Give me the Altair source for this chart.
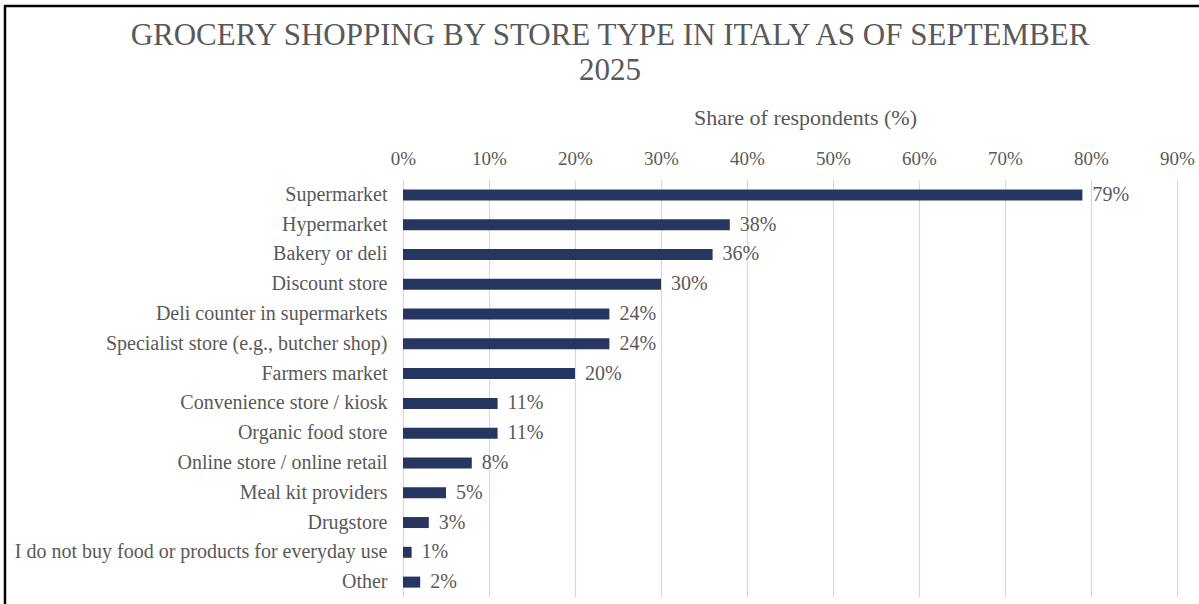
import altair as alt
import pandas as pd

categories = ["Supermarket", "Hypermarket", "Bakery or deli", "Discount store",
              "Deli counter in supermarkets", "Specialist store (e.g., butcher shop)",
              "Farmers market", "Convenience store / kiosk", "Organic food store",
              "Online store / online retail", "Meal kit providers", "Drugstore",
              "I do not buy food or products for everyday use", "Other"]
values = [79, 38, 36, 30, 24, 24, 20, 11, 11, 8, 5, 3, 1, 2]
ticks = [0, 10, 20, 30, 40, 50, 60, 70, 80, 90]

df = pd.DataFrame({"store": categories, "share": [v / 100 for v in values],
                   "label": [f"{v}%" for v in values]})

FONT = "Liberation Serif"
GREY = "#595959"
NAVY = "#263660"

x = alt.X("share:Q", scale=alt.Scale(domain=[0, 0.9], nice=False),
          axis=alt.Axis(orient="top", values=[t / 100 for t in ticks], format=".0%",
                        title="Share of respondents (%)", titleFont=FONT, titleFontSize=22,
                        titleFontWeight="normal", titleColor=GREY, titlePadding=20,
                        titleX=402, titleAlign="center",
                        labelFont=FONT, labelFontSize=19, labelColor=GREY, labelPadding=12,
                        labelFlush=False, labelOverlap=False,
                        ticks=False, domain=False, grid=True, gridColor="#d9d9d9",
                        gridWidth=1.2))
y = alt.Y("store:N", sort=None,
          axis=alt.Axis(title=None, labelFont=FONT, labelFontSize=20, labelColor=GREY,
                        labelPadding=16, ticks=False, domain=False, labelLimit=600))

base = alt.Chart(df)
bars = base.mark_bar(color=NAVY, size=11).encode(x=x, y=y)
text = base.mark_text(align="left", dx=10, font=FONT, fontSize=20, color=GREY).encode(
    x="share:Q", y=alt.Y("store:N", sort=None), text="label:N")

frame_df = pd.DataFrame({"k": [0]})
top_line = alt.Chart(frame_df).mark_rule(color="black", strokeWidth=2.5).encode(
    x=alt.value(-398), x2=alt.value(796), y=alt.value(-174))
left_line = alt.Chart(frame_df).mark_rule(color="black", strokeWidth=2.5).encode(
    x=alt.value(-398), y=alt.value(-175), y2=alt.value(430))

chart = alt.layer(bars, text, top_line, left_line).properties(
    width=774, height=417,
    title=alt.TitleParams(
        text=["GROCERY SHOPPING BY STORE TYPE IN ITALY AS OF SEPTEMBER", "2025"],
        font=FONT, fontSize=31, fontWeight="normal", color=GREY, anchor="middle",
        frame="bounds", lineHeight=35, offset=-83, dx=8),
    autosize=alt.AutoSizeParams(type="none"),
    padding={"left": 403, "top": 180, "right": 22, "bottom": 7},
).configure(background="white").configure_view(stroke=None)

chart.save("out.html", embed_options={"renderer": "svg", "actions": False})
